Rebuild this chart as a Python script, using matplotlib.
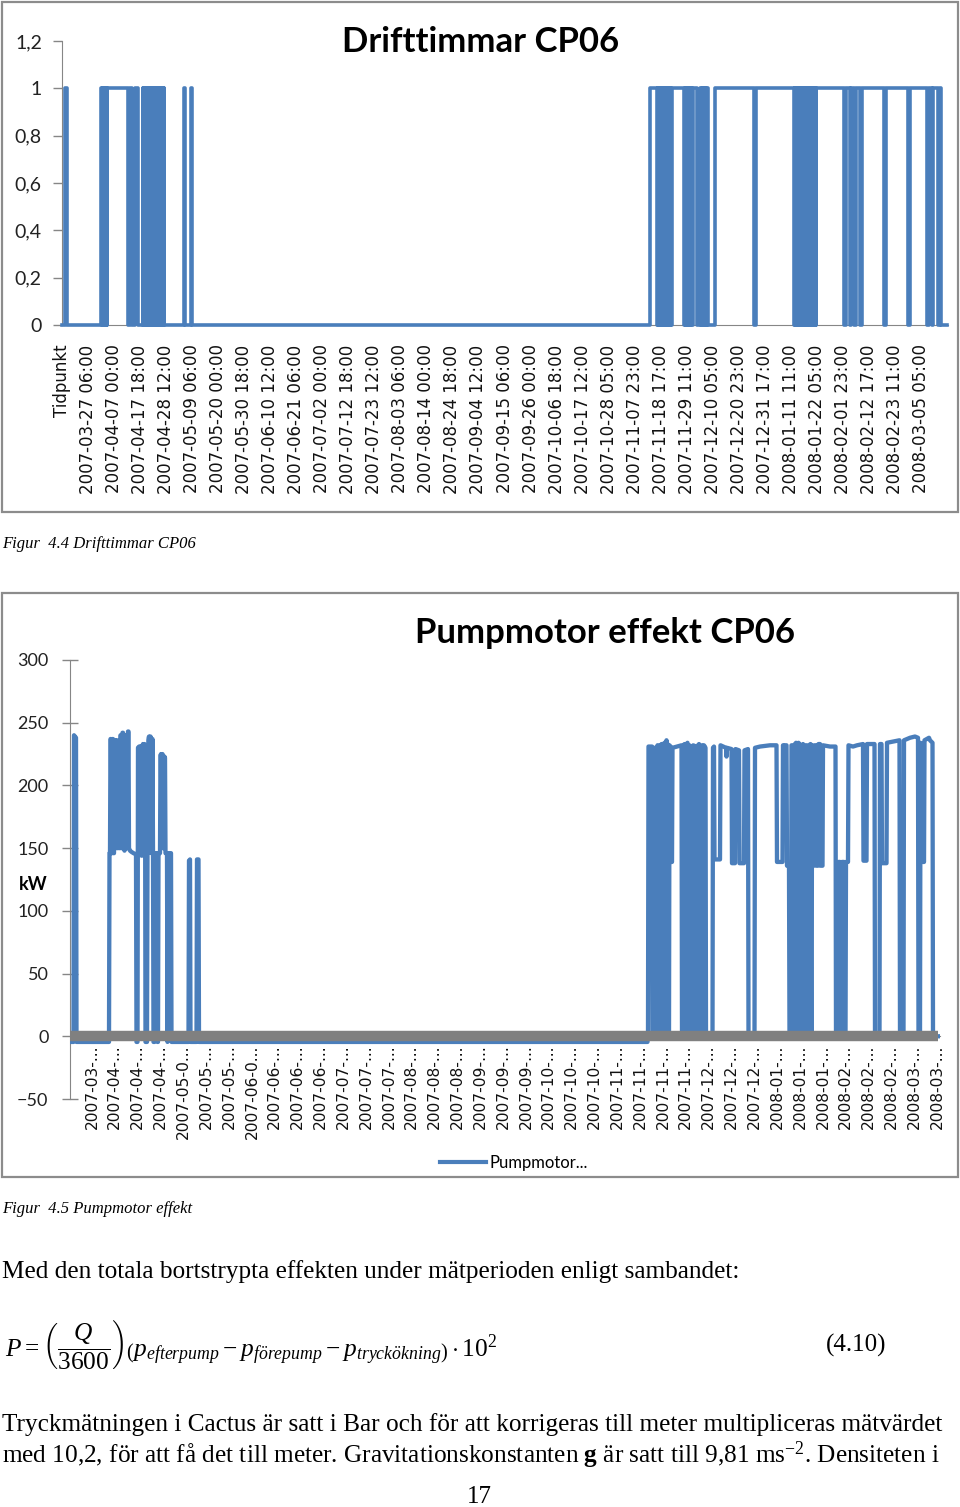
import numpy as np
import matplotlib.pyplot as plt
from matplotlib.lines import Line2D
from matplotlib.patches import Rectangle

plt.rcParams['font.family'] = ['Lato', 'DejaVu Sans']
plt.rcParams['mathtext.fontset'] = 'custom'
plt.rcParams['mathtext.rm'] = 'Liberation Serif'
plt.rcParams['mathtext.it'] = 'Liberation Serif:italic'
plt.rcParams['mathtext.bf'] = 'Liberation Serif:bold'

# ---- Drifttimmar CP06: pump running (1) from run_start to run_end, sample index
run_start = [30, 390, 406, 422, 438, 454, 680, 726,
             805, 821, 837, 853, 869, 885, 905, 921, 937, 953, 969, 985, 1001, 1015,
             1215, 1285,
             5880, 5955, 5971, 5987, 6003, 6019, 6035, 6051, 6067, 6083, 6099,
             6228, 6244, 6260, 6276, 6292, 6308, 6375, 6398, 6414, 6430, 6446,
             6530, 6945, 7326, 7342, 7358, 7374, 7390, 7406, 7422, 7438, 7454, 7470,
             7486, 7502, 7518, 7534, 7545, 7843, 7892, 7936, 7998, 8237, 8485, 8672,
             8715, 8778]
run_end = [45, 398, 414, 430, 446, 660, 703, 760,
           813, 829, 845, 861, 877, 893, 913, 929, 945, 961, 977, 993, 1009, 1023,
           1225, 1295,
           5945, 5963, 5979, 5995, 6011, 6027, 6043, 6059, 6075, 6091, 6215,
           6236, 6252, 6268, 6284, 6300, 6350, 6390, 6406, 6422, 6438, 6463,
           6925, 7318, 7334, 7350, 7366, 7382, 7398, 7414, 7430, 7446, 7462, 7478,
           7494, 7510, 7526, 7540, 7823, 7884, 7920, 7978, 8217, 8465, 8655, 8703,
           8765, 8795]
run_last = 8847

drift_labels = ['Tidpunkt', '2007-03-27 06:00', '2007-04-07 00:00', '2007-04-17 18:00',
                '2007-04-28 12:00', '2007-05-09 06:00', '2007-05-20 00:00', '2007-05-30 18:00',
                '2007-06-10 12:00', '2007-06-21 06:00', '2007-07-02 00:00', '2007-07-12 18:00',
                '2007-07-23 12:00', '2007-08-03 06:00', '2007-08-14 00:00', '2007-08-24 18:00',
                '2007-09-04 12:00', '2007-09-15 06:00', '2007-09-26 00:00', '2007-10-06 18:00',
                '2007-10-17 12:00', '2007-10-28 05:00', '2007-11-07 23:00', '2007-11-18 17:00',
                '2007-11-29 11:00', '2007-12-10 05:00', '2007-12-20 23:00', '2007-12-31 17:00',
                '2008-01-11 11:00', '2008-01-22 05:00', '2008-02-01 23:00', '2008-02-12 17:00',
                '2008-02-23 11:00', '2008-03-05 05:00']
drift_yticks = ['0', '0,2', '0,4', '0,6', '0,8', '1', '1,2']

# ---- Pumpmotor effekt CP06: (sample index, kW)
effekt_spring = [(0, -4.5), (35, -4.5), (40, 240), (60, 238), (65, -4.5),
                 (390, -4.5), (395, 146), (400, 146), (405, 237), (410, 237), (415, 146),
                 (420, 146), (425, 237), (430, 237), (435, 146), (440, 146), (445, 236),
                 (450, 236), (455, 150), (460, 150), (465, 236), (470, 236), (475, 150),
                 (480, 150), (485, 230), (490, 226), (495, 150), (500, 150), (505, 240),
                 (510, 240), (515, 150), (520, 150), (525, 242), (530, 242), (535, 150),
                 (540, 150), (545, 148), (550, 150), (555, 151), (560, 240), (565, 240),
                 (570, 150), (575, 150), (580, 243), (585, 243), (590, 150), (600, 148),
                 (615, 147), (635, 146), (660, 145), (665, -4.5), (675, -4.5),
                 (680, 230), (690, 231), (695, 145), (700, 145), (705, 231), (710, 231),
                 (715, 144), (720, 144), (725, 232), (730, 233), (735, 145), (740, 145),
                 (745, 233), (750, 232), (755, -4.5), (770, -4.5), (775, 146), (780, 146),
                 (785, 236), (790, 239), (795, 150), (800, 150), (805, 239), (810, 237),
                 (815, 146), (820, 146), (825, 237), (830, 147), (835, -4.5), (845, -4.5),
                 (850, 146), (870, 146), (875, -4.5), (880, -4.5), (885, 146), (900, 146),
                 (905, 224), (910, 225), (915, 150), (920, 150), (925, 225), (930, 224),
                 (935, 150), (940, 150), (945, 223), (950, 222), (955, 146), (970, 146),
                 (975, -4.5), (980, 146), (1010, 146), (1015, -4.5),
                 (1185, -4.5), (1190, 140), (1200, 141), (1205, -4.5), (1265, -4.5),
                 (1270, 141), (1285, 141), (1290, -4.5), (5775, -4.5)]
effekt_winter = [(5780, 0), (5785, 231), (5820, 231), (5825, 0), (5840, 0), (5845, 230),
                 (5855, 230), (5860, 0), (5870, 0), (5875, 232), (5885, 232), (5890, 0),
                 (5900, 0), (5905, 231), (5915, 233), (5920, 0), (5930, 0), (5935, 233),
                 (5945, 234), (5950, 0), (5960, 0), (5965, 236), (5975, 232), (5980, 0),
                 (5990, 0), (5995, 232), (6005, 231), (6010, 139), (6020, 139), (6025, 230),
                 (6115, 232), (6120, 0), (6130, 0), (6135, 232), (6145, 233), (6150, 0),
                 (6160, 0), (6165, 233), (6175, 234), (6180, 0), (6190, 0), (6195, 232),
                 (6205, 138), (6215, 138), (6220, 0), (6227, 0), (6232, 232), (6260, 231),
                 (6265, 0), (6275, 0), (6280, 232), (6290, 233), (6295, 0), (6305, 0),
                 (6310, 231), (6320, 232), (6325, 0), (6335, 0), (6340, 232), (6355, 230),
                 (6360, 0), (6425, 0), (6430, 230), (6440, 231), (6445, 141), (6500, 141),
                 (6505, 232), (6560, 230), (6565, 223), (6570, 230), (6615, 229), (6620, 138),
                 (6650, 138), (6655, 229), (6690, 228), (6695, 138), (6740, 138), (6745, 228),
                 (6780, 229), (6785, 0), (6845, 0), (6850, 230), (6900, 231), (7000, 232),
                 (7065, 232), (7070, 139), (7125, 139), (7130, 232), (7140, 228), (7150, 232),
                 (7165, 232), (7170, 136), (7190, 136), (7195, 0), (7210, 0), (7215, 232),
                 (7225, 232), (7230, 0), (7245, 0), (7250, 233), (7260, 234), (7265, 0),
                 (7280, 0), (7285, 234), (7295, 233), (7300, 0), (7315, 0), (7320, 232),
                 (7330, 233), (7335, 0), (7350, 0), (7355, 232), (7365, 232), (7370, 0),
                 (7385, 0), (7390, 232), (7405, 233), (7410, 0), (7417, 0), (7420, 232),
                 (7425, 136), (7440, 136), (7445, 232), (7460, 232), (7465, 136), (7480, 136),
                 (7485, 233), (7500, 233), (7505, 136), (7525, 136), (7530, 232), (7600, 231),
                 (7655, 231), (7660, 0), (7680, 0), (7685, 139), (7700, 139), (7705, 0),
                 (7715, 0), (7720, 139), (7740, 139), (7745, 0), (7755, 0), (7760, 139),
                 (7780, 139), (7785, 232), (7830, 231), (7870, 232), (7930, 233), (7935, 140),
                 (7965, 140), (7970, 233), (8045, 233), (8050, 0), (8095, 0), (8100, 233),
                 (8115, 233), (8120, 138), (8165, 138), (8170, 234), (8230, 235), (8295, 236),
                 (8300, 0), (8335, 0), (8340, 236), (8400, 238), (8450, 239), (8480, 238),
                 (8485, 0), (8500, 0), (8505, 234), (8520, 233), (8525, 139), (8540, 139),
                 (8545, 236), (8590, 238), (8600, 236), (8625, 234), (8630, 0), (8680, 0)]
base_t = [0, 8680]
base_kw = [0.5, 0.5]

effekt_labels = ['2007-03-...', '2007-04-...', '2007-04-...', '2007-04-...', '2007-05-0...',
                 '2007-05-...', '2007-05-...', '2007-06-0...', '2007-06-...', '2007-06-...',
                 '2007-06-...', '2007-07-...', '2007-07-...', '2007-07-...', '2007-08-...',
                 '2007-08-...', '2007-08-...', '2007-09-...', '2007-09-...', '2007-09-...',
                 '2007-10-...', '2007-10-...', '2007-10-...', '2007-11-...', '2007-11-...',
                 '2007-11-...', '2007-11-...', '2007-12-...', '2007-12-...', '2007-12-...',
                 '2008-01-...', '2008-01-...', '2008-01-...', '2008-02-...', '2008-02-...',
                 '2008-02-...', '2008-03-...', '2008-03-...']

W, H = 960, 1507
BLUE = '#4a7ebb'
AXC = '#868686'
SERIF = 'Liberation Serif'

fig = plt.figure(figsize=(9.6, 15.07), dpi=100)


def box(x0, y0, x1, y1):
    # pixel box (top-left origin) -> figure fraction
    return [x0 / W, 1 - y1 / H, (x1 - x0) / W, (y1 - y0) / H]


def fy(y):
    return 1 - y / H


# chart borders
for y0, y1 in [(2, 512), (593, 1177)]:
    fig.add_artist(Rectangle((2 / W, fy(y1)), 956 / W, (y1 - y0) / H,
                             transform=fig.transFigure, fill=False, ec='#8c8c8c', lw=1.6))

# ---------------- chart 1
ax1 = fig.add_axes(box(62, 41, 948, 325))
xs, ys = [0], [0]
for s, e in zip(run_start, run_end):
    xs += [s, s, e, e]
    ys += [0, 1, 1, 0]
xs.append(run_last)
ys.append(0)
ax1.plot(xs, ys, color=BLUE, lw=2.6, clip_on=False, zorder=3)
ax1.set_xlim(0, 8860)
ax1.set_ylim(0, 1.2)
ax1.set_yticks(np.arange(len(drift_yticks)) * 0.2)
ax1.set_yticklabels(drift_yticks, fontsize=14, color='#222222')
ax1.set_xticks(np.arange(len(drift_labels)) * 260.3)
ax1.set_xticklabels(drift_labels, rotation=90, family='DejaVu Sans', fontsize=12, color='#111111')
ax1.tick_params(axis='x', length=0, pad=14)
ax1.tick_params(axis='y', length=6.5, width=1, color=AXC, pad=8)
for sp in ['top', 'right']:
    ax1.spines[sp].set_visible(False)
for sp in ['left', 'bottom']:
    ax1.spines[sp].set_color(AXC)
fig.text(481 / W, fy(42), 'Drifttimmar CP06', ha='center', va='center',
         fontsize=25, fontweight='bold')

# ---------------- chart 2
ax2 = fig.add_axes(box(70, 660, 940, 1099))
ax2.spines['bottom'].set_position(('data', 0))
et, ekw = zip(*(effekt_spring + effekt_winter))
ax2.plot(et, ekw, color=BLUE, lw=3.1, zorder=3)
ax2.plot(base_t, base_kw, color='#808080', lw=7.5, solid_capstyle='butt', zorder=4)
ax2.set_xlim(0, 8700)
ax2.set_ylim(-50, 300)
ax2.set_yticks(np.arange(-50, 301, 50))
ax2.tick_params(axis='y', direction='inout', length=11, width=1, color=AXC, pad=10,
                labelsize=13, labelcolor='#222222')
ax2.set_xticks(220 + np.arange(len(effekt_labels)) * 228.4)
ax2.set_xticklabels(effekt_labels, rotation=90, family='DejaVu Sans', fontsize=11.2,
                    color='#111111')
ax2.tick_params(axis='x', length=0, pad=6)
for sp in ['top', 'right']:
    ax2.spines[sp].set_visible(False)
for sp in ['left', 'bottom']:
    ax2.spines[sp].set_color(AXC)
fig.text(605 / W, fy(633), 'Pumpmotor effekt CP06', ha='center', va='center',
         fontsize=25, fontweight='bold')
fig.text(33 / W, fy(885), 'kW', ha='center', va='center', fontsize=13, fontweight='bold')
fig.legend([Line2D([], [], color=BLUE, lw=3)], ['Pumpmotor...'], loc='center',
           bbox_to_anchor=(514 / W, fy(1163)), frameon=False, fontsize=12,
           handlelength=2.8, handletextpad=0.2)

# ---------------- text of the page
fig.text(2 / W, fy(544), 'Figur  4.4 Drifttimmar CP06', family=SERIF, style='italic',
         fontsize=12, va='center')
fig.text(2 / W, fy(1209), 'Figur  4.5 Pumpmotor effekt', family=SERIF, style='italic',
         fontsize=12, va='center')
fig.text(2 / W, fy(1272), 'Med den totala bortstrypta effekten under mätperioden enligt sambandet:',
         family=SERIF, fontsize=18.2, va='center')
fig.text(5 / W, fy(1345),
         r'$P=\left(\dfrac{Q}{3600}\right)\left(p_{efterpump}-p_{förepump}-p_{tryckökning}\right)\cdot10^{2}$',
         family=SERIF, fontsize=18.3, va='center')
fig.text(886 / W, fy(1345), '(4.10)', family=SERIF, fontsize=18, ha='right', va='center')
fig.text(2 / W, fy(1425),
         'Tryckmätningen i Cactus är satt i Bar och för att korrigeras till meter multipliceras mätvärdet',
         family=SERIF, fontsize=18.2, va='center')
fig.text(2 / W, fy(1455),
         r'med 10,2, för att få det till meter. Gravitationskonstanten $\mathbf{g}$ är satt till 9,81 ms$^{-2}$. Densiteten i',
         family=SERIF, fontsize=18.2, va='center')
fig.text(479 / W, fy(1497), '17', family=SERIF, fontsize=18, ha='center', va='center')

fig.savefig('out.png', dpi=100)
